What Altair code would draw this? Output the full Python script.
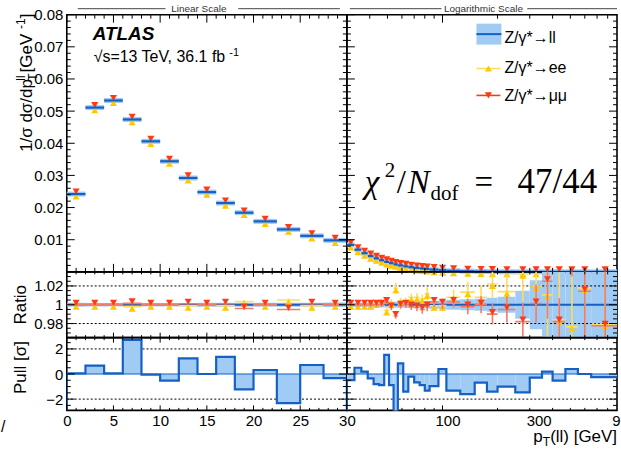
import altair as alt
import pandas as pd

# ---------------- data ----------------
EDGES = [0, 2, 4, 6, 8, 10, 12, 14, 16, 18, 20, 22.5, 25, 27.5, 30, 33, 36, 39, 42, 45, 48, 51,
         54, 57, 61, 65, 70, 75, 80, 85, 95, 105, 125, 150, 175, 200, 250, 300, 350, 400, 470,
         550, 650, 900]

XSEC = [0.0242, 0.0511, 0.0533, 0.0474, 0.0406, 0.0344, 0.0292, 0.0248, 0.0214, 0.0184, 0.0157,
        0.0132, 0.0112, 0.0098,
        0.0084, 0.0069, 0.0058, 0.0049, 0.0042, 0.0036, 0.0031, 0.0027, 0.0023, 0.0020, 0.0017,
        0.00145, 0.00122, 0.00103, 0.00088, 0.00070, 0.00052, 0.00034, 0.00019, 0.000105,
        0.000062, 0.000032, 0.000014, 0.0000068, 0.0000036, 0.0000018, 0.0000008, 0.00000034,
        0.00000009]

RATIO_EE = [1.000, 1.000, 1.000, 0.998, 1.000, 1.000, 0.999, 1.000, 0.999, 1.0035, 1.000, 1.005,
            0.999, 1.000,
            1.000, 1.000, 1.000, 1.000, 1.002, 1.004, 0.994, 1.003, 1.0176, 1.004, 1.004, 1.008,
            1.008, 1.006, 1.0116, 0.999, 0.999, 1.008, 1.0134, 1.008, 1.022, 1.014, 1.033, 1.020,
            1.0105, 0.984, 0.9765, 1.018, 0.979]

RATIO_MM = [1.000, 1.000, 1.000, 1.0015, 1.000, 1.000, 1.001, 1.000, 1.001, 0.996, 1.000, 0.995,
            1.001, 1.000,
            1.000, 1.000, 1.000, 1.000, 1.000, 1.000, 1.0028, 0.997, 0.988, 0.999, 1.000, 0.998,
            0.997, 0.995, 0.998, 1.003, 1.001, 1.003, 0.998, 1.000, 0.990, 0.995, 0.982, 1.0014,
            1.025, 0.982, 1.060, 1.0144, 0.9776]

ERR_EE = [0.0012, 0.0010, 0.0010, 0.0010, 0.0011, 0.0012, 0.0013, 0.0014, 0.0015, 0.0016, 0.0016,
          0.0017, 0.0018, 0.0019,
          0.0020, 0.0021, 0.0022, 0.0023, 0.0025, 0.0027, 0.0029, 0.0031, 0.0060, 0.0035, 0.0038,
          0.0040, 0.0045, 0.0050, 0.0070, 0.0055, 0.0060, 0.0080, 0.0110, 0.0120, 0.0140, 0.0180,
          0.0300, 0.0250, 0.0450, 0.0500, 0.0700, 0.0800, 0.1200]

ERR_MM = [0.0010, 0.0009, 0.0009, 0.0009, 0.0010, 0.0011, 0.0012, 0.0013, 0.0013, 0.0014, 0.0014,
          0.0015, 0.0016, 0.0017,
          0.0018, 0.0019, 0.0020, 0.0021, 0.0022, 0.0024, 0.0026, 0.0028, 0.0030, 0.0032, 0.0034,
          0.0036, 0.0040, 0.0045, 0.0050, 0.0050, 0.0055, 0.0060, 0.0080, 0.0090, 0.0110, 0.0140,
          0.0200, 0.0200, 0.0400, 0.0250, 0.0300, 0.0500, 0.0800]

BAND = [0.0020, 0.0018, 0.0018, 0.0018, 0.0018, 0.0019, 0.0019, 0.0020, 0.0020, 0.0021, 0.0021,
        0.0022, 0.0022, 0.0023,
        0.0024, 0.0025, 0.0025, 0.0026, 0.0027, 0.0028, 0.0029, 0.0030, 0.0031, 0.0032, 0.0033,
        0.0035, 0.0036, 0.0038, 0.0040, 0.0043, 0.0048, 0.0052, 0.0058, 0.0065, 0.0075, 0.0085,
        0.0150, 0.0260, 0.0600, 0.0600, 0.0600, 0.0600, 0.0600]

PULL = [0.05, 0.67, 0.05, 2.72, -0.05, -0.53, 1.25, 0.0, 1.36, -1.23, 0.32, -2.32, 0.72, -0.32,
        -0.48, 0.5, 0.19, -0.35, -0.8, -0.88, 1.52, -0.88, -3.3, 0.85, -1.41, -0.21, -0.67, -0.88,
        -1.33, -0.96, 0.4, -1.33, -1.6, -0.69, -1.41, -1.01, -1.47, -0.29, 0.19, -0.53, 0.4, 0.0,
        -0.24]

# axis labels / tick positions
X_LIN_LABELS = [0, 5, 10, 15, 20, 25]
X_LOG_LABELS = [30, 100, 300, 900]
X_LIN_MAJOR = [0, 5, 10, 15, 20, 25, 30]
X_LIN_MINOR = [1, 2, 3, 4, 6, 7, 8, 9, 11, 12, 13, 14, 16, 17, 18, 19, 21, 22, 23, 24, 26, 27, 28, 29]
X_LOG_MAJOR = [100]
X_LOG_MINOR = [40, 50, 60, 70, 80, 90, 200, 300, 400, 500, 600, 700, 800]
Y_MAIN_LABELS = [0.01, 0.02, 0.03, 0.04, 0.05, 0.06, 0.07, 0.08]
Y_MAIN_MINOR = [0.002, 0.004, 0.006, 0.008, 0.012, 0.014, 0.016, 0.018, 0.022, 0.024, 0.026, 0.028,
                0.032, 0.034, 0.036, 0.038, 0.042, 0.044, 0.046, 0.048, 0.052, 0.054, 0.056, 0.058,
                0.062, 0.064, 0.066, 0.068, 0.072, 0.074, 0.076, 0.078]
Y_RATIO_LABELS = [0.98, 1.0, 1.02]
Y_RATIO_MINOR = [0.97, 0.975, 0.985, 0.99, 0.995, 1.005, 1.01, 1.015, 1.025, 1.03]
Y_PULL_LABELS = [-2, 0, 2]
Y_PULL_MINOR = [-2.5, -1.5, -1, -0.5, 0.5, 1, 1.5, 2.5]

# ---------------- style ----------------
FONT = "Liberation Sans"
SERIF = "Liberation Serif"
DARK = "#1560c4"
LIGHT = "#9fcbf5"
YEL = "#ffc800"
YEL_L = "#ffdc5a"
RED = "#ff3a12"
RED_L = "#f27a66"
WL, WR = 281, 271
HM, HR, HP = 258, 66, 73

lo = EDGES[:-1]
hi = EDGES[1:]
df = pd.DataFrame({"lo": lo, "hi": hi, "xs": XSEC, "ree": RATIO_EE, "rmm": RATIO_MM,
                   "eee": ERR_EE, "emm": ERR_MM, "band": BAND, "pull": PULL})
df["c"] = (df["lo"] + df["hi"]) / 2
df["ee"] = df["xs"] * df["ree"]
df["mm"] = df["xs"] * df["rmm"]
df["blo"] = 1 - df["band"]
df["bhi"] = 1 + df["band"]
df["ee_lo"] = df["ree"] - df["eee"]
df["ee_hi"] = df["ree"] + df["eee"]
df["mm_lo"] = df["rmm"] - df["emm"]
df["mm_hi"] = df["rmm"] + df["emm"]
DATA = {"lin": df[df["hi"] <= 30].reset_index(drop=True),
        "log": df[df["lo"] >= 30].reset_index(drop=True)}

XSC = {"lin": alt.Scale(domain=[0, 30], nice=False, zero=False),
       "log": alt.Scale(type="log", domain=[30, 900], nice=False)}
YSC = {"main": alt.Scale(domain=[0, 0.08], nice=False, zero=False),
       "ratio": alt.Scale(domain=[0.965, 1.035], nice=False, zero=False),
       "pull": alt.Scale(domain=[-2.9, 2.9], nice=False, zero=False)}
ONE = pd.DataFrame({"k": [0]})

AXBASE = dict(title=None, ticks=False, tickSize=0, domain=False, grid=False, labelFont=FONT,
              labelFontSize=15, labelColor="black", labelOverlap=False)


def xaxis(kind, row):
    if row != "pull":
        return None
    if kind == "lin":
        return alt.Axis(values=X_LIN_LABELS, format="d", labelPadding=3, labelFlush=False, **AXBASE)
    return alt.Axis(values=X_LOG_LABELS, format="d", labelPadding=3, labelFlush=False,
                    labelExpr="datum.value == 900 ? '9' : datum.label",
                    labelAlign={"condition": {"test": "datum.value == 900", "value": "right"},
                                "value": "center"},
                    labelOffset={"condition": [{"test": "datum.value == 100", "value": 5},
                                               {"test": "datum.value == 300", "value": 9},
                                               {"test": "datum.value == 900", "value": 3}],
                                 "value": 0},
                    **AXBASE)


def yaxis(kind, row):
    if kind == "log":
        return None
    if row == "main":
        return alt.Axis(values=Y_MAIN_LABELS, format=".2f", labelPadding=4, **AXBASE)
    if row == "ratio":
        return alt.Axis(values=Y_RATIO_LABELS, labelPadding=4,
                        labelExpr="datum.value == 1 ? '1' : format(datum.value, '.2f')", **AXBASE)
    return alt.Axis(values=Y_PULL_LABELS, format="d", labelPadding=4, **AXBASE)


def txt(s, x, y, size=16, align="left", baseline="alphabetic", angle=0, font=FONT,
        style="normal", weight="normal", color="black"):
    kw = dict(text=s, align=align, baseline=baseline, fontSize=size, font=font,
              fontStyle=style, fontWeight=weight, color=color)
    if angle:
        kw["angle"] = angle
    return alt.Chart(ONE).mark_text(**kw).encode(x=alt.value(x), y=alt.value(y))


def hline(x1, x2, y, color="black", width=1.0, opacity=1.0):
    return alt.Chart(ONE).mark_rule(color=color, strokeWidth=width, opacity=opacity).encode(
        x=alt.value(x1), x2=alt.value(x2), y=alt.value(y))


def panel(kind, row):
    d = DATA[kind]
    W = WL if kind == "lin" else WR
    H = {"main": HM, "ratio": HR, "pull": HP}[row]
    xsc, ysc = XSC[kind], YSC[row]
    xax, yax = xaxis(kind, row), yaxis(kind, row)

    def X(f):
        return alt.X(f, type="quantitative", scale=xsc, axis=xax)

    def Y(f):
        return alt.Y(f, type="quantitative", scale=ysc, axis=yax)

    base = alt.Chart(d)
    layers = []

    if row == "main":
        layers.append(base.mark_rule(color=LIGHT, strokeWidth=5).encode(
            x=X("lo"), x2="hi", y=Y("xs")))
        layers.append(base.mark_point(shape="triangle-up", filled=True, color=YEL, size=50,
                                      opacity=1, yOffset=2.5).encode(x=X("c"), y=Y("ee")))
        layers.append(base.mark_point(shape="triangle-down", filled=True, color=RED, size=50,
                                      opacity=1, yOffset=-2.5).encode(x=X("c"), y=Y("mm")))
        layers.append(base.mark_rule(color=DARK, strokeWidth=2.2).encode(
            x=X("lo"), x2="hi", y=Y("xs")))
    elif row == "ratio":
        layers.append(base.mark_rect(color=LIGHT, clip=True).encode(
            x=X("lo"), x2="hi", y=Y("blo"), y2="bhi"))
        layers.append(alt.Chart(pd.DataFrame({"v": [0.98, 1.02]})).mark_rule(
            color="black", strokeDash=[2, 2], strokeWidth=1).encode(
            y=Y("v"), x=alt.value(0), x2=alt.value(W)))
        layers.append(alt.Chart(pd.DataFrame({"v": [1.0]})).mark_rule(
            color=DARK, strokeWidth=2).encode(y=Y("v"), x=alt.value(0), x2=alt.value(W)))
        for c_l, c_m, lo_f, hi_f, v_f, shp, off in [
                (YEL_L, YEL, "ee_lo", "ee_hi", "ree", "triangle-up", 2),
                (RED_L, RED, "mm_lo", "mm_hi", "rmm", "triangle-down", -2)]:
            layers.append(base.mark_rule(color=c_l, strokeWidth=1.6, clip=True).encode(
                x=X("c"), y=Y(lo_f), y2=hi_f))
            layers.append(base.mark_rule(color=c_l, strokeWidth=1.6, clip=True).encode(
                x=X("lo"), x2="hi", y=Y(v_f)))
            layers.append(base.mark_point(shape=shp, filled=True, color=c_m, size=50, opacity=1,
                                          yOffset=off, clip=True).encode(x=X("c"), y=Y(v_f)))
    else:
        layers.append(alt.Chart(pd.DataFrame({"v": [-2, 2]})).mark_rule(
            color="black", strokeDash=[2, 2], strokeWidth=1).encode(
            y=Y("v"), x=alt.value(0), x2=alt.value(W)))
        layers.append(base.mark_rect(color=LIGHT, clip=True).encode(
            x=X("lo"), x2="hi", y=Y("pull"), y2=alt.datum(0)))
        layers.append(alt.Chart(pd.DataFrame({"v": [0]})).mark_rule(
            color=DARK, strokeWidth=1.2).encode(y=Y("v"), x=alt.value(0), x2=alt.value(W)))
        step = pd.DataFrame({"x": list(d["lo"]) + [d["hi"].iloc[-1]],
                             "p": list(d["pull"]) + [d["pull"].iloc[-1]]})
        layers.append(alt.Chart(step).mark_line(interpolate="step-after", color=DARK,
                                                strokeWidth=2.2, clip=True).encode(
            x=X("x"), y=Y("p")))
        if kind == "lin":
            ends = pd.DataFrame({"x": [d["lo"].iloc[0], d["hi"].iloc[-1]],
                                 "p": [d["pull"].iloc[0], d["pull"].iloc[-1]]})
        else:
            ends = pd.DataFrame({"x": [d["lo"].iloc[0]], "p": [d["pull"].iloc[0]]})
        layers.append(alt.Chart(ends).mark_rule(color=DARK, strokeWidth=2.2, clip=True).encode(
            x=X("x"), y=Y("p"), y2=alt.value(H)))

    # inward ticks on all four sides
    xmaj = X_LIN_MAJOR if kind == "lin" else X_LOG_MAJOR
    xmin = X_LIN_MINOR if kind == "lin" else X_LOG_MINOR
    ymaj = {"main": Y_MAIN_LABELS, "ratio": Y_RATIO_LABELS, "pull": Y_PULL_LABELS}[row]
    ymin = {"main": Y_MAIN_MINOR, "ratio": Y_RATIO_MINOR, "pull": Y_PULL_MINOR}[row]
    xlen = 8 if row == "main" else 5
    for vals, L in [(xmaj, xlen), (xmin, xlen / 2)]:
        tk = alt.Chart(pd.DataFrame({"v": vals})).mark_rule(color="black", strokeWidth=1)
        layers.append(tk.encode(x=X("v"), y=alt.value(H), y2=alt.value(H - L)))
        layers.append(tk.encode(x=X("v"), y=alt.value(0), y2=alt.value(L)))
    for vals, L in [(ymaj, 8), (ymin, 4)]:
        tk = alt.Chart(pd.DataFrame({"v": vals})).mark_rule(color="black", strokeWidth=1)
        layers.append(tk.encode(y=Y("v"), x=alt.value(0), x2=alt.value(L)))
        layers.append(tk.encode(y=Y("v"), x=alt.value(W), x2=alt.value(W - L)))

    # annotations
    if row == "main" and kind == "lin":
        layers.append(hline(-66, 0, -13, opacity=0))  # sets outer bounds
        layers += [
            txt("ATLAS", 26, 25, size=19, style="italic", weight="bold"),
            txt("\u221as=13 TeV, 36.1 fb", 27, 47, size=16),
            txt("-1", 163, 41, size=11),
            txt("Linear Scale", 132.5, -2.5, size=10, align="center", color="#333333"),
            hline(11, 99, -6, color="#444444", width=1),
            hline(172, 274, -6, color="#444444", width=1),
            # rotated y title
            txt("1/\u03c3 d\u03c3/dp", -35, 137.6, size=17, angle=270),
            txt("ll", -42, 66.2, size=12, angle=270),
            txt("T", -30, 66.2, size=12, angle=270),
            txt(" [GeV", -35, 57.9, size=17, angle=270),
            txt("-1", -42, 14.4, size=12, angle=270),
            txt("]", -35, 3.7, size=17, angle=270),
        ]
    if row == "main" and kind == "log":
        layers += [
            txt("Logarithmic Scale", 137, -2.5, size=10, align="center", color="#333333"),
            hline(3, 95, -6, color="#444444", width=1),
            hline(181, 271, -6, color="#444444", width=1),
            # legend
            alt.Chart(ONE).mark_rect(color=LIGHT).encode(
                x=alt.value(130), x2=alt.value(155), y=alt.value(9), y2=alt.value(30)),
            hline(130, 155, 19.5, color=DARK, width=2),
            txt("Z/\u03b3*\u2192ll", 158, 28, size=16),
            hline(130, 154, 54, color=YEL_L, width=1.6),
            alt.Chart(ONE).mark_point(shape="triangle-up", filled=True, color=YEL, size=50,
                                      opacity=1).encode(x=alt.value(142), y=alt.value(54)),
            txt("Z/\u03b3*\u2192ee", 158, 59, size=16),
            hline(130, 154, 81, color=RED, width=1.6),
            alt.Chart(ONE).mark_point(shape="triangle-down", filled=True, color=RED, size=50,
                                      opacity=1).encode(x=alt.value(142), y=alt.value(81)),
            txt("Z/\u03b3*\u2192\u03bc\u03bc", 158, 87, size=16),
            # chi2 annotation
            txt("\u03c7", 18, 179, size=33, font=SERIF, style="italic"),
            txt("2", 38, 163, size=21, font=SERIF),
            txt("/", 50, 179, size=33, font=SERIF),
            txt("N", 61, 179, size=33, font=SERIF, style="italic"),
            txt("dof", 84, 186, size=21, font=SERIF),
            txt("=", 128, 179, size=33, font=SERIF),
            txt("47/44", 251, 179, size=35, font=SERIF, align="right"),
        ]
    if row == "ratio" and kind == "lin":
        layers.append(txt("Ratio", -46, 33, size=17, angle=270, align="center",
                          baseline="middle"))
    if row == "pull" and kind == "lin":
        layers.append(txt("Pull [\u03c3]", -46, 30, size=17, angle=270, align="center",
                          baseline="middle"))
        layers.append(txt("/", -66, 95, size=16))
    if row == "pull" and kind == "log":
        layers += [
            txt("(ll) [GeV]", 271, 105, size=17, align="right"),
            txt("T", 196.5, 109, size=12, align="left"),
            txt("p", 196.5, 105, size=17, align="right"),
            hline(0, 274, 113, opacity=0),  # sets outer bounds
        ]

    return alt.layer(*layers).properties(width=W, height=H)


panels = [panel(k, r) for r in ["main", "ratio", "pull"] for k in ["lin", "log"]]

chart = alt.concat(*panels, columns=2, spacing=0, bounds="flush").properties(
    padding={"left": 0, "top": 0, "right": 0, "bottom": 0},
    background="white",
).configure_view(stroke="black", strokeWidth=1.6)

chart.save("out.html", embed_options={"renderer": "svg", "actions": False})
